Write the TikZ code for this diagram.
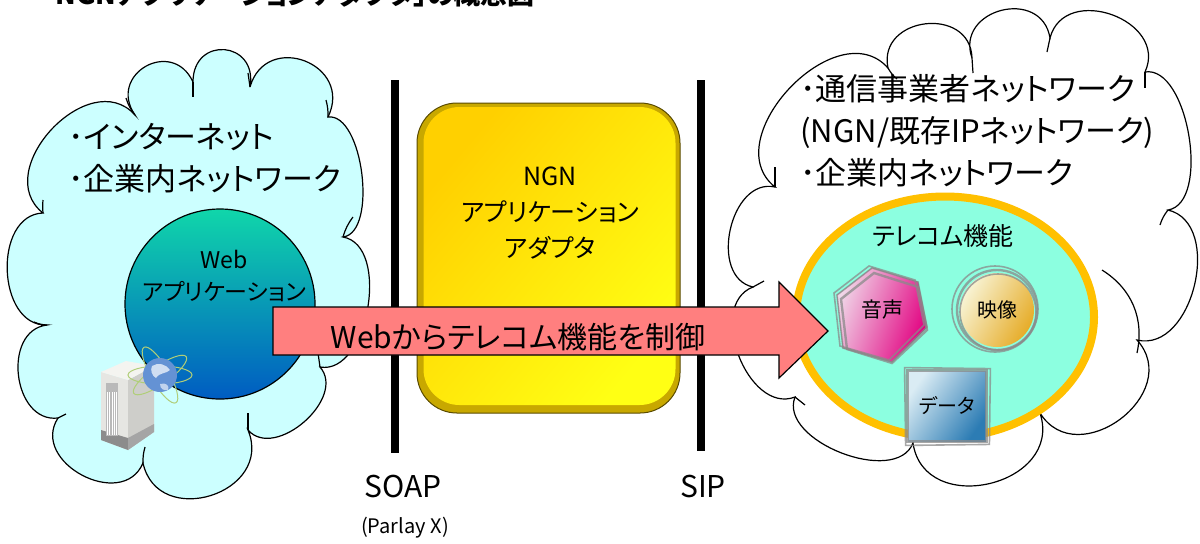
\documentclass[tikz,border=0pt]{standalone}
\usepackage{fontspec}
\setmainfont{Noto Sans CJK JP}[RawFeature=+palt]
\usetikzlibrary{calc,shapes.geometric}

\definecolor{skyfill}{HTML}{CCFFFF}
\definecolor{arrowpink}{HTML}{FF7F7F}
\definecolor{ringorange}{HTML}{FFC000}
\definecolor{aquafill}{HTML}{8CFFE0}
\definecolor{sketchgray}{HTML}{8A8A8A}
\definecolor{webtop}{RGB}{16,214,170}
\definecolor{webmid}{RGB}{34,198,232}
\definecolor{webbot}{RGB}{0,92,194}
\definecolor{adedge}{RGB}{90,75,0}
\definecolor{adrim}{RGB}{200,168,0}
\definecolor{adleft}{RGB}{255,208,0}
\definecolor{adright}{RGB}{255,255,20}
\definecolor{voicelight}{RGB}{240,214,232}
\definecolor{voicedeep}{RGB}{226,0,128}
\definecolor{videolight}{RGB}{248,244,214}
\definecolor{videodeep}{RGB}{230,172,40}
\definecolor{datalight}{RGB}{218,236,244}
\definecolor{datadeep}{RGB}{44,124,180}
\definecolor{orbitgreen}{RGB}{176,206,120}
\definecolor{srvfront}{RGB}{230,230,226}
\definecolor{srvside}{RGB}{206,206,202}
\definecolor{srvtop}{RGB}{244,244,240}
\definecolor{srvbase}{RGB}{140,140,140}
\definecolor{srvbaseside}{RGB}{165,165,165}
\definecolor{srvpanel}{RGB}{185,185,185}
\definecolor{globeblue}{RGB}{100,146,212}

\begin{document}
\begin{tikzpicture}[x=0.5pt,y=-0.5pt,
  puff/.style={draw=black, line width=0.6pt},
  pufftick/.style={draw=black, line width=0.6pt},
  bodytxt/.style={font=\fontsize{15.5}{21}\selectfont, align=left, inner sep=0pt},
  webtxt/.style={font=\fontsize{11.5}{16}\selectfont, align=center, inner sep=0pt},
  adtxt/.style={font=\fontsize{12.5}{18}\selectfont, align=center, inner sep=0pt},
  arrowtxt/.style={font=\fontsize{15}{18}\selectfont, inner sep=0pt},
  smalltxt/.style={font=\fontsize{10.5}{12}\selectfont, inner sep=0pt},
  lbl/.style={font=\fontsize{15}{18}\selectfont, inner sep=0pt},
  parlaytxt/.style={font=\fontsize{10}{12}\selectfont, inner sep=0pt},
  titletxt/.style={font=\fontsize{13.5}{16}\selectfont\bfseries, inner sep=0pt},
  webapp/.style={circle, draw=black, line width=0.6pt, minimum size=95pt, inner sep=0pt,
    top color=webtop, middle color=webmid, bottom color=webbot},
  bar/.style={line width=4pt, black},
  adapterbox/.style={rectangle, rounded corners=20pt, minimum width=131.5pt, minimum height=155pt,
    draw=adedge, line width=0.5pt, fill=adrim},
  adapterface/.style={rectangle, rounded corners=18pt, minimum width=126pt, minimum height=149pt,
    left color=adleft, right color=adright, shading angle=50},
  blockarrow/.style={draw=black, line width=0.6pt, fill=arrowpink, line join=miter},
  telecom/.style={ellipse, draw=ringorange, line width=4pt, fill=aquafill, minimum width=149pt, minimum height=120.5pt, inner sep=0pt},
  sketch/.style={draw=sketchgray, line width=0.8pt, opacity=0.75},
  video/.style={circle, minimum size=37pt, inner sep=0pt,
    left color=videolight, right color=videodeep, shading angle=60},
  databox/.style={rectangle, minimum width=39pt, minimum height=35pt, inner sep=0pt,
    left color=datalight, right color=datadeep, shading angle=55},
  orbit/.style={draw=orbitgreen, line width=0.5pt}
]
\useasboundingbox (0,0) rectangle (1200,543);

% ---------- left cloud: internet / corporate network ----------
\draw[puff, fill=skyfill]
  (43,213) to[bend left=95,looseness=1.3] (135,115)
  to[bend left=95,looseness=1.9] (193,82)
  to[bend left=95,looseness=2.1] (250,87)
  to[bend left=95,looseness=1.8] (328,117)
  to[bend left=90,looseness=0.75] (343,237)
  to[bend left=90,looseness=0.95] (320,367)
  to[bend left=90,looseness=1.1] (248,430)
  to[bend left=95,looseness=1.6] (143,463)
  to[bend left=95,looseness=1.4] (58,418)
  to[bend left=90,looseness=1.25] (47,325)
  to[bend left=90,looseness=1.15] (43,213) -- cycle;
% short inner strokes where the puffs meet
\draw[pufftick] (43,213) to[bend left=5] (43,200);
\draw[pufftick] (47,325) to[bend left=10] (34,322);
\draw[pufftick] (135,115) to[bend left=10] (126,98);
\draw[pufftick] (193,82) -- (193,97);
\draw[pufftick] (250,87) -- (248,73);
\draw[pufftick] (328,117) to[bend right=8] (326,100);
\draw[pufftick] (343,237) to[bend left=10] (353,217);
\draw[pufftick] (320,367) -- (318,353);
\draw[pufftick] (248,430) -- (248,413);
\draw[pufftick] (143,463) to[bend left=8] (145,447);
\draw[pufftick] (58,418) -- (66,414);

\node[bodytxt, anchor=west] (lefttxt) at (68,158) {･インターネット\\･企業内ネットワーク};

% web application sphere
\node[webapp] (webapp) at (220,304) {};
\node[webtxt] (webapptxt) at (224,276) {Web\\アプリケーション};

% server box
\fill[srvfront] (101,372) -- (128,380) -- (128,450) -- (101,440) -- cycle;
\fill[srvside] (128,380) -- (154,366) -- (154,432) -- (128,450) -- cycle;
\fill[srvtop] (101,372) -- (126,361) -- (154,366) -- (128,380) -- cycle;
\fill[srvbase] (101,430) -- (128,438) -- (128,450) -- (101,440) -- cycle;
\fill[srvbaseside] (128,438) -- (154,424) -- (154,432) -- (128,450) -- cycle;
\fill[srvpanel] (106,383) rectangle (118,436);
\foreach \sx in {107.5,109.8,112.1,114.4,116.7}
  \draw[white, line width=0.6pt] (\sx,392) -- (\sx,435);

% globe with orbits
\draw[orbit] (160,375) ellipse[x radius=32, y radius=9];
\draw[orbit, rotate around={35:(160,375)}] (160,375) ellipse[x radius=32, y radius=9];
\draw[orbit, rotate around={-60:(160,375)}] (160,375) ellipse[x radius=32, y radius=9];
\fill[globeblue] (160,375) circle[radius=17];
\fill[white, opacity=0.7] (152,366) .. controls (158,362) and (166,364) .. (170,370)
  .. controls (166,374) and (160,372) .. (156,378) .. controls (152,376) and (150,370) .. (152,366) -- cycle;
\fill[white, opacity=0.6] (160,384) .. controls (166,382) and (170,386) .. (168,390)
  .. controls (164,391) and (160,389) .. (160,384) -- cycle;

% ---------- right cloud: carrier / corporate network ----------
\draw[puff, fill=white]
  (775,187) to[bend left=95,looseness=1.2] (888,68)
  to[bend left=95,looseness=1.6] (972,58)
  to[bend left=95,looseness=1.65] (1050,38)
  to[bend left=95,looseness=1.45] (1145,72)
  to[bend left=90,looseness=0.8] (1168,210)
  to[bend left=90,looseness=1.1] (1137,340)
  to[bend left=95,looseness=1.5] (1040,413)
  to[bend left=95,looseness=1.5] (913,443)
  to[bend left=90,looseness=0.95] (795,397)
  to[bend left=90,looseness=1.1] (753,287)
  to[bend left=90,looseness=1.15] (775,187) -- cycle;
% short inner strokes where the puffs meet
\draw[pufftick] (775,187) -- (775,167);
\draw[pufftick] (888,68) to[bend right=10] (897,79);
\draw[pufftick] (972,58) -- (973,73);
\draw[pufftick] (1050,38) -- (1047,52);
\draw[pufftick] (1145,72) -- (1145,88);
\draw[pufftick] (1168,210) to[bend right=10] (1160,225);
\draw[pufftick] (1102,270) to[bend left=35] (1137,353);
\draw[pufftick] (1040,413) -- (1038,397);
\draw[pufftick] (913,443) -- (912,427);
\draw[pufftick] (795,397) -- (805,405);
\draw[pufftick] (753,287) -- (764,281);

\node[bodytxt, anchor=west] (righttxt) at (800,131) {･通信事業者ネットワーク\\(NGN/既存IPネットワーク)\\･企業内ネットワーク};

% telecom functions
\node[telecom] (telecom) at (945,317) {};
\node[adtxt] (telecomtxt) at (943,236) {テレコム機能};

% voice hexagon
\fill[left color=voicelight, right color=voicedeep, shading angle=70]
  (872,268) -- (918,282) -- (927,327) -- (892,362) -- (843,348) -- (837,295) -- cycle;
\draw[sketch] (872,268) -- (918,282) -- (927,327) -- (892,362) -- (843,348) -- (837,295) -- cycle;
\draw[sketch, shift={(-3,-2)}] (872,268) -- (918,282) -- (927,327) -- (892,362) -- (843,348) -- (837,295) -- cycle;
\draw[sketch, shift={(2,3)}, line width=1.2pt] (872,270) -- (916,284) -- (925,327) -- (890,360) -- (845,346) -- (839,296) -- cycle;
\node[smalltxt] (voice) at (882,310) {音声};

% video disc
\node[video] (video) at (997,310) {映像};
\draw[sketch, line width=1.2pt] (video.center) circle[radius=40];
\draw[sketch] ($(video.center)+(-2,-1)$) circle[radius=43];
\draw[sketch] ($(video.center)+(1,2)$) circle[radius=38];

% data panel
\node[databox] (data) at (947,406) {データ};
\draw[sketch, line width=1.2pt] (data.north west) rectangle (data.south east);
\draw[sketch] ($(data.north west)+(-3,-3)$) -- ($(data.north east)+(4,-2)$) -- ($(data.south east)+(3,3)$) -- ($(data.south west)+(-2,4)$) -- cycle;

% ---------- interface bars ----------
\coordinate (soapT) at (395,80);
\coordinate (soapB) at (395,453);
\coordinate (sipT) at (701,80);
\coordinate (sipB) at (701,451);
\draw[bar] (soapT) -- (soapB);
\draw[bar] (sipT) -- (sipB);
\node[lbl] (soap) at (403,486) {SOAP};
\node[parlaytxt] (parlay) at (405,528) {(Parlay X)};
\node[lbl] (sip) at (703,486) {SIP};

% ---------- adapter ----------
\node[adapterbox] (adapter) at (548.5,258) {};
\node[adapterface] (adapterface) at (549.5,256) {};
\node[adtxt] (adaptertxt) at (550,213) {NGN\\アプリケーション\\アダプタ};

% ---------- control arrow ----------
\coordinate (arrowtail) at (273,331);
\coordinate (arrowtip) at (828,331);
\path[blockarrow]
  ($(arrowtail)+(0,-24)$) -- ($(arrowtip)+(-49,-24)$) -- ($(arrowtip)+(-49,-49)$) -- (arrowtip)
  -- ($(arrowtip)+(-49,47)$) -- ($(arrowtip)+(-49,24)$) -- ($(arrowtail)+(0,24)$) -- cycle;
\node[arrowtxt] (controltxt) at (518,337) {Webからテレコム機能を制御};

% ---------- heading ----------
\node[titletxt, anchor=base west] (heading) at (55,4) {NGNアプリケーションアダプタ」の概念図};
\end{tikzpicture}
\end{document}
